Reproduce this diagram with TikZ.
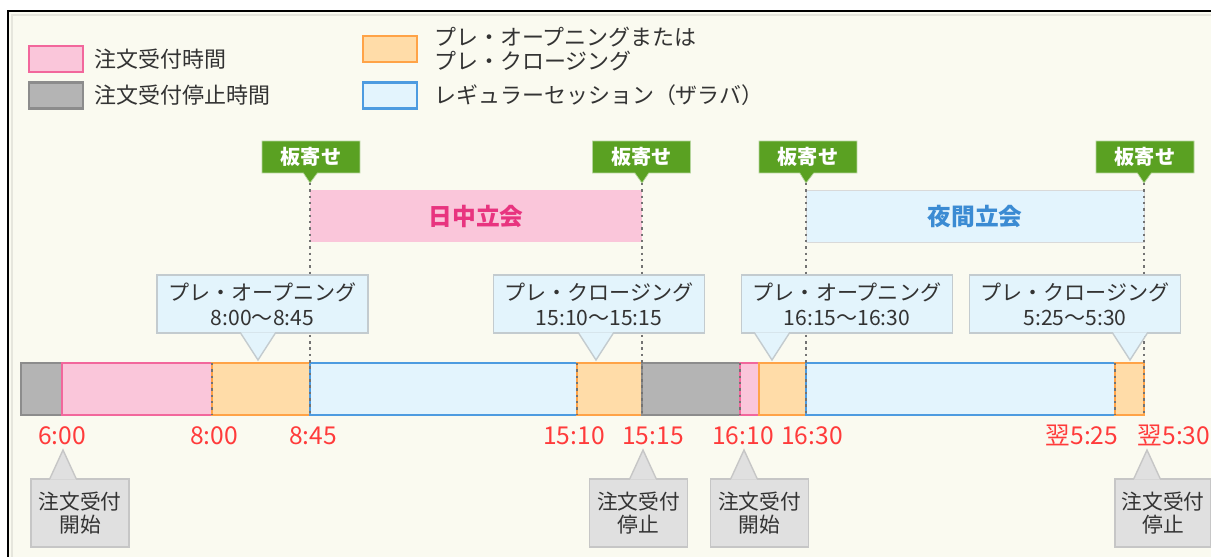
\documentclass[tikz,border=0pt]{standalone}
\usepackage{fontspec}
\setmainfont{Noto Sans CJK JP}
\usepackage{xcolor}
\usetikzlibrary{shapes.callouts,positioning}

\definecolor{cream}{HTML}{FAFAF0}
\definecolor{pinkfill}{HTML}{FAC6DA}
\definecolor{pinkline}{HTML}{F2679C}
\definecolor{pinktext}{HTML}{E8347F}
\definecolor{grayfill}{HTML}{B4B4B4}
\definecolor{grayline}{HTML}{8C8C8C}
\definecolor{orangefill}{HTML}{FFDCA8}
\definecolor{orangeline}{HTML}{FFA347}
\definecolor{bluefill}{HTML}{E3F4FD}
\definecolor{blueline}{HTML}{4D9BE0}
\definecolor{bluetext}{HTML}{3B8BD3}
\definecolor{hintfill}{HTML}{E3F4FC}
\definecolor{hintline}{HTML}{C3CBCF}
\definecolor{notefill}{HTML}{E0E0E0}
\definecolor{noteline}{HTML}{C6C6C6}
\definecolor{tagfill}{HTML}{5AA122}
\definecolor{timered}{HTML}{FF3B3B}
\definecolor{ink}{HTML}{333333}

\begin{document}
\begin{tikzpicture}[
    x=0.02cm, y=-0.02cm,
    legbox/.style={rectangle, draw, line width=1.2pt, minimum width=1.08cm, minimum height=0.52cm, inner sep=0pt},
    legtext/.style={text=ink, font=\fontsize{12.5pt}{14pt}\selectfont, align=left, inner sep=0pt},
    itaTag/.style={rectangle callout, fill=tagfill, draw=tagfill!45!white, text=white, font=\fontsize{11.5pt}{13pt}\selectfont\bfseries,
        minimum width=1.96cm, minimum height=0.64cm, inner sep=0pt, callout pointer width=0.28cm},
    band/.style={rectangle, minimum height=1.04cm, inner sep=0pt, font=\fontsize{13.5pt}{15pt}\selectfont\bfseries},
    hint/.style={rectangle, fill=hintfill, draw=hintline, line width=0.8pt, text=ink, align=center,
        font=\fontsize{12pt}{14pt}\selectfont, minimum width=4.22cm, minimum height=1.16cm, inner sep=0pt},
    orderNote/.style={rectangle, fill=notefill, draw=noteline, line width=0.8pt, text=ink, align=center,
        font=\fontsize{11.8pt}{13pt}\selectfont, minimum width=1.96cm, minimum height=1.36cm, inner sep=0pt},
    clock/.style={text=timered, font=\fontsize{14pt}{16pt}\selectfont, inner sep=1pt, text height=10pt, text depth=1pt},
    seg/.style={line width=1.1pt},
    pseg/.style={seg, fill=pinkfill, draw=pinkline},
    gseg/.style={seg, fill=grayfill, draw=grayline},
    oseg/.style={seg, fill=orangefill, draw=orangeline},
    bseg/.style={seg, fill=bluefill, draw=blueline},
    itayose/.style={draw=black!55, line width=1.4pt, dash pattern=on 1.4pt off 2.2pt}
]
    \useasboundingbox (0,0) rectangle (1211,557);
    % Frame
    \fill[white] (0,0) rectangle (1211,557);
    \fill[cream] (8,11) rectangle (1211,557);
    \draw[black!8!cream, line width=1pt] (12,557) -- (12,15) -- (1211,15);
    \draw[black, line width=1.4pt] (8,557) -- (8,11) -- (1211,11);

    % Legend
    \node[legbox, fill=pinkfill, draw=pinkline] (legPink) at (56,59) {};
    \node[legtext, right=0.2cm of legPink] {注文受付時間};
    \node[legbox, fill=grayfill, draw=grayline] (legGray) at (56,95.5) {};
    \node[legtext, right=0.2cm of legGray] {注文受付停止時間};
    \node[legbox, fill=orangefill, draw=orangeline] (legOrange) at (390,49) {};
    \node[legtext, right=0.32cm of legOrange] {プレ・オープニングまたは\\プレ・クロージング};
    \node[legbox, fill=bluefill, draw=blueline] (legBlue) at (390,95.5) {};
    \node[legtext, right=0.32cm of legBlue] {レギュラーセッション（ザラバ）};

    % Sessions
    \node[band, fill=pinkfill, text=pinktext, minimum width=6.64cm] (dayBand) at (476,216) {日中立会};
    \node[band, fill=bluefill, draw=black!15, text=bluetext, minimum width=6.76cm] (nightBand) at (975,216) {夜間立会};

    % Itayose tags
    \coordinate (pDayOpen) at (310,183);
    \coordinate (pDayClose) at (642,183);
    \coordinate (pNightOpen) at (806,183);
    \coordinate (pNightClose) at (1144,183);
    \coordinate (barBot) at (0,415);
    \node[itaTag, callout absolute pointer=(pDayOpen)] (tagDayOpen) at (311,157) {板寄せ};
    \node[itaTag, callout absolute pointer=(pDayClose)] (tagDayClose) at (641.5,157) {板寄せ};
    \node[itaTag, callout absolute pointer=(pNightOpen)] (tagNightOpen) at (808,157) {板寄せ};
    \node[itaTag, callout absolute pointer=(pNightClose)] (tagNightClose) at (1145,157) {板寄せ};

    % Time bar
    \foreach \xa/\xb/\s in {21/62/gseg, 62/212/pseg, 212/310/oseg, 310/577/bseg, 577/642/oseg,
                            642/740/gseg, 740/759/pseg, 759/806/oseg, 806/1115/bseg, 1115/1144/oseg}
        \draw[\s] (\xa,363) rectangle (\xb,415);
    \foreach \x in {212,577,740,1115}
        \draw[itayose] (\x,363) -- (\x,415);
    \foreach \p in {pDayOpen,pDayClose,pNightOpen,pNightClose}
        \draw[itayose] (\p) -- (\p |- barBot);

    % Pre-opening / pre-closing
    \coordinate (hDayOpen) at (258,360);
    \coordinate (hDayClose) at (596,360);
    \coordinate (hNightOpen) at (772,360);
    \coordinate (hNightClose) at (1130,360);
    \node[hint] (hintDayOpen) at (262.5,304) {プレ・オープニング\\8:00〜8:45};
    \node[hint] (hintDayClose) at (599,304) {プレ・クロージング\\15:10〜15:15};
    \node[hint] (hintNightOpen) at (847,304) {プレ・オープニング\\16:15〜16:30};
    \node[hint] (hintNightClose) at (1075,304) {プレ・クロージング\\5:25〜5:30};
    \foreach \n/\t in {hintDayOpen/hDayOpen, hintDayClose/hDayClose, hintNightOpen/hNightOpen, hintNightClose/hNightClose} {
        \coordinate (b) at (\n.south -| \t);
        \fill[hintfill] ([shift={(-0.34cm,0.8pt)}]b) -- (\t) -- ([shift={(0.34cm,0.8pt)}]b) -- cycle;
        \draw[hintline, line width=0.8pt] ([xshift=-0.34cm]b) -- (\t) -- ([xshift=0.34cm]b);
    }

    % Times
    \node[clock] (t600) at (62,437) {6:00};
    \node[clock] (t800) at (214,437) {8:00};
    \node[clock] (t845) at (313,437) {8:45};
    \node[clock] (t1510) at (574,437) {15:10};
    \node[clock] (t1515) at (653,437) {15:15};
    \node[clock] (t1610) at (743,437) {16:10};
    \node[clock] (t1630) at (812,437) {16:30};
    \node[clock] (t525) at (1082,437) {翌5:25};
    \node[clock] (t530) at (1174,437) {翌5:30};

    % Order acceptance notes
    \coordinate (nStart) at (63,450);
    \coordinate (nStop) at (643,450);
    \coordinate (nNightStart) at (744,450);
    \coordinate (nNightStop) at (1147,450);
    \node[orderNote] (noteStart) at (80,513) {注文受付\\開始};
    \node[orderNote] (noteStop) at (638.5,513) {注文受付\\停止};
    \node[orderNote] (noteNightStart) at (759.5,513) {注文受付\\開始};
    \node[orderNote, minimum width=1.92cm] (noteNightStop) at (1163,513) {注文受付\\停止};
    \foreach \n/\t in {noteStart/nStart, noteStop/nStop, noteNightStart/nNightStart, noteNightStop/nNightStop} {
        \coordinate (b) at (\n.north -| \t);
        \fill[notefill] ([shift={(-0.26cm,-0.8pt)}]b) -- (\t) -- ([shift={(0.26cm,-0.8pt)}]b) -- cycle;
        \draw[noteline, line width=0.8pt] ([xshift=-0.26cm]b) -- (\t) -- ([xshift=0.26cm]b);
    }
\end{tikzpicture}
\end{document}
